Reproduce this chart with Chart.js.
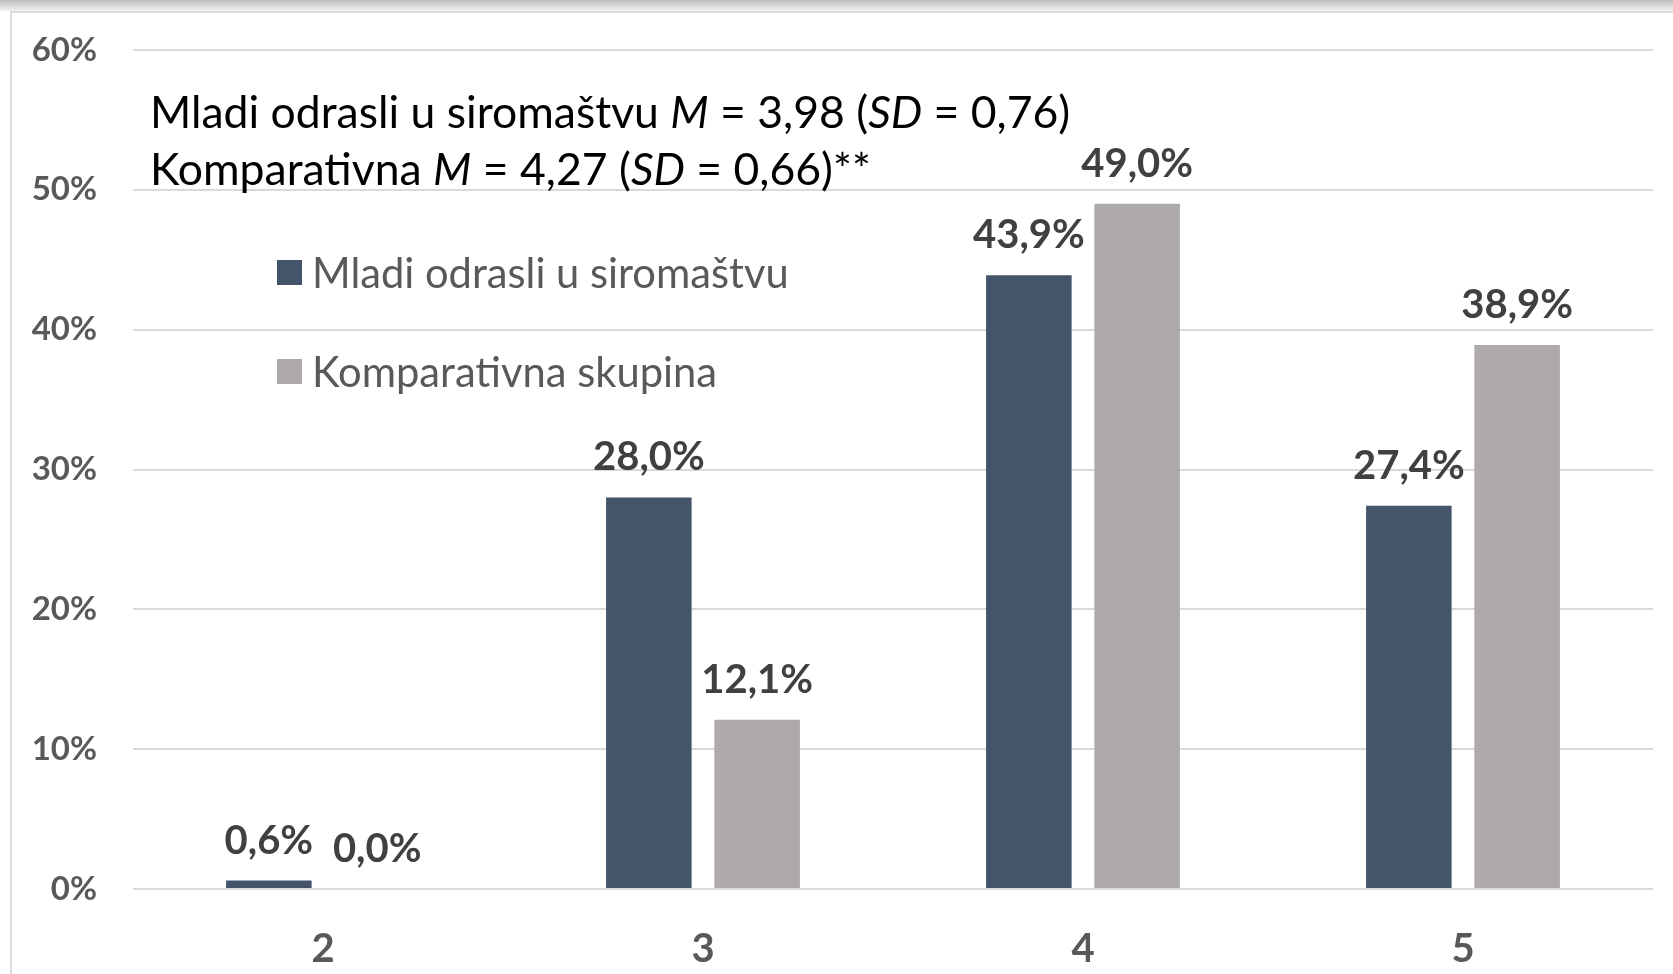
<!DOCTYPE html>
<html>
<head>
<meta charset="utf-8">
<script src="https://cdn.jsdelivr.net/npm/chart.js@4.4.0/dist/chart.umd.min.js"></script>
<style>
    body { margin: 0; background: #fff; }
    #wrap { position: relative; width: 1673px; height: 974px; overflow: hidden; font-family: Lato, sans-serif; }
    #topband { position: absolute; left: 0; top: 0; width: 100%; height: 11px; background: linear-gradient(#bdbdbd, #f3f3f3); }
    #frame { position: absolute; left: 10px; top: 11px; right: -10px; bottom: -10px; border-left: 2px solid #dcdcdc; border-top: 2px solid #dcdcdc; }
    #chartBox { position: absolute; left: 0; top: 0; width: 1673px; height: 974px; }
    #note { position: absolute; left: 150px; top: 82px; font-size: 44.5px; line-height: 57px; color: #000; white-space: nowrap; }
    #legend { position: absolute; left: 277px; top: 251px; font-size: 41.7px; color: #595959; }
    .item { display: flex; align-items: center; height: 42px; margin-bottom: 57px; white-space: nowrap; }
    .box { width: 25px; height: 25px; margin-right: 10px; }
</style>
</head>
<body>
<div id="wrap">
    <div id="topband"></div>
    <div id="frame"></div>
    <div id="chartBox"><canvas id="barChart"></canvas></div>
    <div id="note"></div>
    <div id="legend"></div>
</div>

<script>
const categories = ["2", "3", "4", "5"];
const seriesNames = ["Mladi odrasli u siromaštvu", "Komparativna skupina"];
const youngPoor = [0.6, 28.0, 43.9, 27.4];
const comparison = [0.0, 12.1, 49.0, 38.9];
const yTicks = [0, 10, 20, 30, 40, 50, 60];
const colors = ["#44546A", "#AEAAAA"];
const noteLines = [
    "Mladi odrasli u siromaštvu <i>M</i> = 3,98 (<i>SD</i> = 0,76)",
    "Komparativna <i>M</i> = 4,27 (<i>SD</i> = 0,66)**"
];

// annotation + legend
document.getElementById("note").innerHTML = noteLines.join("<br>");
document.getElementById("legend").innerHTML = seriesNames.map(function (name, i) {
    return `<div class="item"><span class="box" style="background:${colors[i]}"></span>${name}</div>`;
}).join("");

function fmt(v) {
    return v.toFixed(1).replace(".", ",") + "%";
}

// value labels above bars
const valueLabels = {
    id: "valueLabels",
    afterDatasetsDraw(chart) {
        const ctx = chart.ctx;
        ctx.save();
        ctx.font = "bold 40px Lato";
        ctx.fillStyle = "#404040";
        ctx.textAlign = "center";
        ctx.textBaseline = "middle";
        chart.data.datasets.forEach(function (ds, i) {
            chart.getDatasetMeta(i).data.forEach(function (bar, j) {
                ctx.fillText(fmt(ds.data[j]), bar.x, bar.y - 40);
            });
        });
        ctx.restore();
    }
};

const ctx = document.getElementById("barChart").getContext("2d");

new Chart(ctx, {
    type: "bar",
    data: {
        labels: categories,
        datasets: [
            { label: seriesNames[0], data: youngPoor, backgroundColor: colors[0] },
            { label: seriesNames[1], data: comparison, backgroundColor: colors[1] }
        ]
    },
    options: {
        responsive: true,
        maintainAspectRatio: false,
        animation: false,
        categoryPercentage: 0.57,
        barPercentage: 0.79,
        layout: { padding: { top: 50, right: 20, left: 0, bottom: 0 } },
        plugins: {
            legend: { display: false },
            tooltip: { enabled: false }
        },
        scales: {
            x: {
                grid: { display: false },
                border: { display: false },
                ticks: {
                    color: "#595959",
                    font: { family: "Lato", size: 40, weight: "bold" },
                    padding: 28
                },
                afterFit: function (scale) { scale.height = 85; }
            },
            y: {
                min: 0,
                max: 60,
                afterBuildTicks: function (scale) {
                    scale.ticks = yTicks.map(function (v) { return { value: v }; });
                },
                // gap between labels and plot comes from an invisible tick mark,
                // ticks.padding would also push the chart area down
                grid: { color: "#d9d9d9", lineWidth: 2, drawTicks: true, tickLength: 36, tickColor: "rgba(0,0,0,0)" },
                border: { display: false },
                ticks: {
                    color: "#595959",
                    font: { family: "Lato", size: 33, weight: "bold" },
                    padding: 0,
                    callback: function (v) { return v + "%"; }
                },
                afterFit: function (scale) { scale.width = 133; }
            }
        }
    },
    plugins: [valueLabels]
});
</script>
</body>
</html>
